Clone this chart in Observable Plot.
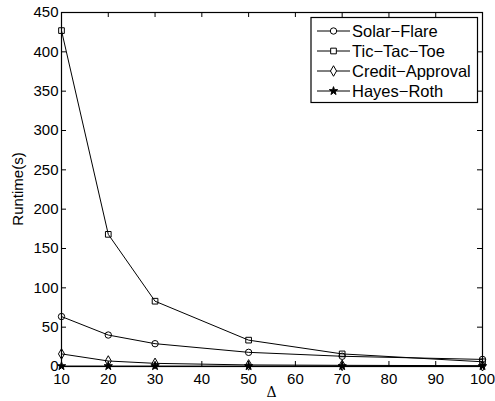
<!DOCTYPE html>
<html><head><meta charset="utf-8">
<script src="https://cdn.jsdelivr.net/npm/d3@7"></script>
<script src="https://cdn.jsdelivr.net/npm/@observablehq/plot@0.6"></script>
<style>
body{margin:0;background:#fff}
#chart{position:relative;width:495px;height:401px;font-family:"Liberation Sans",Arial,sans-serif}
#legend{position:absolute;left:0;top:0}
</style>
</head><body><div id="chart"></div>
<script>
const deltas = [10, 20, 30, 50, 70, 100];
const solarFlare = [63.5, 40, 29, 18, 13, 9];
const ticTacToe = [427, 168, 83, 33.5, 16, 6];
const creditApproval = [16, 7, 4, 2, 1.5, 1];
const hayesRoth = [0.5, 0.5, 0.5, 0.5, 0.5, 0.5];
const seriesNames = ["Solar−Flare", "Tic−Tac−Toe", "Credit−Approval", "Hayes−Roth"];
const seriesSymbols = ["circle", "square", "diamond", "star"];
const xTicks = [10, 20, 30, 40, 50, 60, 70, 80, 90, 100];
const yTicks = [0, 50, 100, 150, 200, 250, 300, 350, 400, 450];
const xLabel = "Δ";
const yLabel = "Runtime(s)";

const W = 495, H = 401, mL = 61, mR = 13, mT = 12, mB = 35;
const pw = W - mL - mR, ph = H - mT - mB;
const seriesValues = [solarFlare, ticTacToe, creditApproval, hayesRoth];
const rows = [];
seriesNames.forEach((name, i) => deltas.forEach((x, j) => rows.push({series: name, x, y: seriesValues[i][j], sym: seriesSymbols[i]})));
const symR = s => s === "star" ? 2.6 : 3.2;

const dotMarks = seriesNames.map((name, i) => Plot.dot(rows.filter(r => r.series === name), {
  x: "x", y: "y", symbol: seriesSymbols[i], r: symR(seriesSymbols[i]),
  stroke: "black", strokeWidth: 1, fill: seriesSymbols[i] === "star" ? "black" : "none"
}));

const chart = Plot.plot({
  width: W, height: H,
  marginLeft: mL, marginRight: mR, marginTop: mT, marginBottom: mB,
  style: {fontFamily: '"Liberation Sans", Arial, sans-serif', fontSize: "15px", background: "white", color: "black"},
  x: {domain: [10, 100]},
  y: {domain: [0, 450]},
  marks: [
    Plot.line(rows, {x: "x", y: "y", z: "series", stroke: "black", strokeWidth: 1}),
    ...dotMarks,
    Plot.tickY(yTicks, {y: d => d, insetRight: pw - 5, stroke: "black"}),
    Plot.tickY(yTicks, {y: d => d, insetLeft: pw - 5, stroke: "black"}),
    Plot.tickX(xTicks, {x: d => d, insetTop: ph - 5, stroke: "black"}),
    Plot.tickX(xTicks, {x: d => d, insetBottom: ph - 5, stroke: "black"}),
    Plot.frame({stroke: "black", strokeWidth: 1.2}),
    Plot.axisX(xTicks, {anchor: "bottom", tickSize: 0, tickPadding: 7, label: null, fontSize: 15}),
    Plot.axisY(yTicks, {anchor: "left", tickSize: 0, tickPadding: 3, label: null, fontSize: 15})
  ]
});

const root = document.getElementById("chart");
root.appendChild(chart);

// axis titles and legend overlay
const ov = d3.select(root).append("svg").attr("id", "legend").attr("width", W).attr("height", H)
  .style("font-family", '"Liberation Sans", Arial, sans-serif');
ov.append("text").attr("x", mL + pw / 2).attr("y", 397).attr("text-anchor", "middle")
  .style("font-family", '"DejaVu Serif", serif').style("font-size", "14px").text(xLabel);
ov.append("text").attr("transform", `translate(23,${mT + ph / 2}) rotate(-90)`).attr("text-anchor", "middle")
  .style("font-size", "15px").text(yLabel);

const lg = ov.append("g");
lg.append("rect").attr("x", 311).attr("y", 17.5).attr("width", 166.5).attr("height", 85)
  .attr("fill", "white").attr("stroke", "black").attr("stroke-width", 1.2);
const symMap = {circle: d3.symbolCircle, square: d3.symbolSquare, diamond: d3.symbolDiamond, star: d3.symbolStar};
seriesNames.forEach((name, i) => {
  const cy = 31 + i * 20;
  lg.append("line").attr("x1", 317).attr("x2", 350).attr("y1", cy).attr("y2", cy).attr("stroke", "black");
  const s = seriesSymbols[i];
  const r = symR(s);
  lg.append("path").attr("transform", `translate(333.5,${cy})`)
    .attr("d", d3.symbol(symMap[s], r * r * Math.PI)())
    .attr("fill", s === "star" ? "black" : "white").attr("stroke", "black");
  lg.append("text").attr("x", 352).attr("y", cy).attr("dy", "0.36em").style("font-size", "16.5px").text(name);
});
</script>
</body></html>
